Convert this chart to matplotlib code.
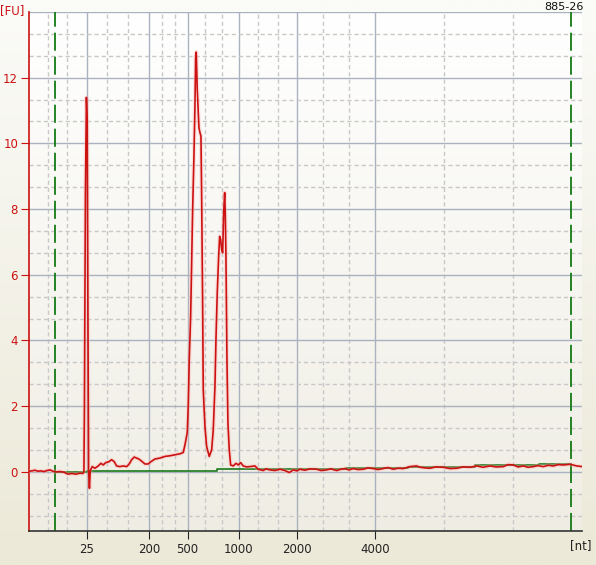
import matplotlib
matplotlib.use("Agg")
import matplotlib.pyplot as plt
import numpy as np

# electropherogram trace: migration time [s] vs fluorescence [FU]
time_s = [20.0, 20.27, 20.57, 20.87, 21.17, 21.47, 21.77, 22.07, 22.37, 22.67,
          23.07, 23.47, 23.87, 24.27, 24.67, 25.07, 25.37, 25.47, 25.52, 25.62,
          25.72, 25.8, 25.87, 25.94, 26.02, 26.1, 26.17, 26.3, 26.57, 26.9,
          27.17, 27.4, 27.64, 27.97, 28.24, 28.5, 28.74, 29.07, 29.4, 29.74,
          30.0, 30.24, 30.5, 30.74, 30.97, 31.3, 31.57, 31.9, 32.17, 32.57,
          33.07, 33.57, 34.07, 34.57, 35.07, 35.4, 35.57, 35.8, 35.9, 36.0,
          36.14, 36.24, 36.34, 36.47, 36.57, 36.64, 36.7, 36.8, 36.97, 37.07,
          37.17, 37.24, 37.34, 37.4, 37.57, 37.74, 38.0, 38.24, 38.4, 38.57,
          38.67, 38.8, 38.94, 39.04, 39.14, 39.24, 39.34, 39.44, 39.54, 39.6,
          39.67, 39.77, 39.87, 40.0, 40.14, 40.4, 40.67, 40.9, 41.14, 41.4,
          41.74, 42.07, 42.57, 42.9, 43.4, 43.67, 44.07, 44.57, 45.07, 45.57,
          46.0, 46.4, 46.77, 47.07, 47.57, 48.07, 48.74, 49.17, 49.74, 50.17,
          50.74, 51.17, 51.57, 51.97, 52.4, 52.87, 53.4, 53.87, 54.4, 54.87,
          55.4, 55.87, 56.4, 56.87, 57.4, 58.07, 58.74, 59.07, 59.57, 60.07,
          60.67, 61.37, 62.07, 62.74, 63.37, 64.07, 64.74, 65.37, 66.07, 66.67,
          67.4, 67.87, 68.4, 68.87, 69.4, 69.87, 70.4, 70.87, 71.4, 71.87,
          72.4, 72.87, 73.4, 74.07, 74.74, 75.27]
fu = [0.02, 0.03, 0.05, 0.02, 0.03, 0.01, 0.04, 0.06, 0.02, 0.0,
      0.01, -0.01, -0.07, -0.05, -0.07, -0.04, -0.05, 0.0, 1.95, 8.5,
      11.4, 10.7, 4.85, 0.0, -0.5, 0.0, 0.08, 0.16, 0.11, 0.18,
      0.26, 0.21, 0.28, 0.31, 0.37, 0.31, 0.18, 0.16, 0.18, 0.16,
      0.24, 0.37, 0.45, 0.42, 0.39, 0.31, 0.24, 0.24, 0.31, 0.39,
      0.42, 0.47, 0.49, 0.52, 0.55, 0.59, 0.82, 1.19, 1.99, 3.41,
      4.74, 6.46, 7.99, 9.61, 11.14, 12.66, 12.78, 11.65, 10.48, 10.33,
      10.22, 8.39, 5.04, 2.5, 1.38, 0.77, 0.47, 0.67, 1.28, 2.6,
      4.02, 5.45, 6.56, 7.17, 7.07, 6.77, 6.67, 7.89, 8.5, 7.89,
      6.56, 3.41, 1.48, 0.67, 0.21, 0.18, 0.26, 0.21, 0.28, 0.18,
      0.15, 0.16, 0.18, 0.08, 0.04, 0.09, 0.06, 0.04, 0.08, 0.04,
      -0.02, 0.06, 0.03, 0.08, 0.05, 0.09, 0.08, 0.04, 0.06, 0.09,
      0.04, 0.08, 0.1, 0.06, 0.1, 0.07, 0.08, 0.12, 0.1, 0.07,
      0.1, 0.13, 0.08, 0.11, 0.1, 0.16, 0.18, 0.14, 0.12, 0.11,
      0.15, 0.14, 0.1, 0.11, 0.15, 0.14, 0.18, 0.14, 0.18, 0.15,
      0.16, 0.22, 0.21, 0.15, 0.18, 0.14, 0.16, 0.19, 0.16, 0.2,
      0.18, 0.22, 0.21, 0.23, 0.18, 0.16]

# baseline (steps)
base_t = [22.57, 25.74, 32.0, 38.77, 51.67, 57.87, 64.57, 70.97, 74.17]
base_fu = [0.0, 0.02, 0.04, 0.08, 0.13, 0.16, 0.2, 0.23, 0.23]

# ladder positions
ladder_nt = ["25", "200", "500", "1000", "2000", "4000"]
ladder_t = [25.74, 32.0, 35.84, 40.97, 46.77, 54.57]
marker_lines = [22.57, 74.17]

xmin, xmax = 20.0, 75.27
ymin, ymax = -1.8, 14.0

fig = plt.figure(figsize=(5.96, 5.65), dpi=100)
bg = fig.add_axes([0, 0, 1, 1], zorder=-10)
grad = np.linspace(0, 1, 256).reshape(-1, 1)
bg.imshow(grad, aspect="auto", extent=[0, 1, 0, 1],
          cmap=matplotlib.colors.LinearSegmentedColormap.from_list(
              "bgf", ["#fbfbf8", "#ece9d8"]))
bg.axis("off")

ax = fig.add_axes([0.049, 0.0602, 0.9276, 0.9186])
ax.imshow(grad, aspect="auto", extent=[0, 1, 0, 1], transform=ax.transAxes,
          zorder=0,
          cmap=matplotlib.colors.LinearSegmentedColormap.from_list(
              "bga", ["#ffffff", "#efede3"]))
ax.set_xlim(xmin, xmax)
ax.set_ylim(ymin, ymax)

# grid: solid majors, dashed thirds
major_x = [xmin] + ladder_t + [xmax]
for a, b in zip(major_x[:-1], major_x[1:]):
    for v in np.linspace(a, b, 4)[1:3]:
        ax.axvline(v, color="#c8c8c8", lw=1, ls=(0, (3, 2.2)), zorder=1)
for v in ladder_t:
    ax.axvline(v, color="#aab2c0", lw=1, zorder=1)
for v in np.arange(0, 14.01, 2):
    ax.axhline(v, color="#aab2c0", lw=1, zorder=1)
    for m in (v - 2/3, v - 4/3):
        if m > ymin:
            ax.axhline(m, color="#c8c8c8", lw=1, ls=(0, (3, 2.2)), zorder=1)

for v in marker_lines:
    ax.axvline(v, color="#147a14", lw=1.3, ls=(0, (10, 3.3)), zorder=2)

ax.step(base_t, base_fu, where="post", color="#1a7a1a", lw=1.2, zorder=3)
ax.plot(time_s, fu, color="#ffb0b0", lw=3.0, alpha=0.35, zorder=4)
ax.plot(time_s, fu, color="#cc1111", lw=1.2, zorder=5)

ax.set_yticks([0, 2, 4, 6, 8, 10, 12])
ax.set_xticks(ladder_t)
ax.set_xticklabels(ladder_nt)
ax.tick_params(axis="y", colors="#cc1111", labelsize=8.5, length=6, pad=2)
ax.tick_params(axis="x", colors="#222222", labelsize=8.5, length=6, pad=3)
for s in ("top", "right"):
    ax.spines[s].set_visible(False)
ax.spines["left"].set_color("#cc1111")
ax.spines["left"].set_linewidth(1.2)
ax.spines["bottom"].set_color("#333333")
ax.spines["bottom"].set_linewidth(1.2)

fig.text(0.0, 0.982, "[FU]", color="#cc1111", fontsize=8.5, va="center")
fig.text(0.957, 0.034, "[nt]", color="#222222", fontsize=8.5, va="center")
fig.text(0.913, 0.987, "885-26", color="#111111", fontsize=8, va="center")

fig.savefig("out.png", dpi=100)
